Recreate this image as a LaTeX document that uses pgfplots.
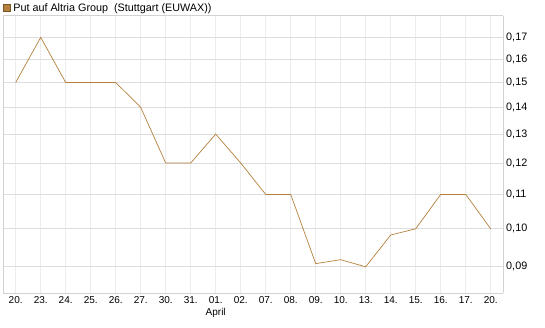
\documentclass[border=0pt]{standalone}
\usepackage{fontspec}
\setmainfont{Liberation Sans}
\usepackage{pgfplots}
\pgfplotsset{compat=1.18}
\definecolor{linec}{RGB}{180,128,60}
\definecolor{boxc}{RGB}{120,85,40}
\definecolor{gridh}{RGB}{221,221,221}
\definecolor{gridv}{RGB}{236,236,236}
\definecolor{axc}{RGB}{210,210,210}
\begin{document}
\fontsize{10}{12}\selectfont
\begin{tikzpicture}
\useasboundingbox (0pt,0pt) rectangle (545pt,327pt);
\begin{axis}[
  at={(3.2pt,34pt)}, anchor=south west,
  scale only axis, width=500pt, height=277.3pt,
  ymode=log,
  xmin=-0.5, xmax=19.5, ymin=0.0837, ymax=0.1805,
  axis y line*=right,
  axis x line*=bottom,
  axis line style={draw=axc},
  separate axis lines,
  ytick={0.09,0.10,0.11,0.12,0.13,0.14,0.15,0.16,0.17},
  yticklabels={{0,09},{0,10},{0,11},{0,12},{0,13},{0,14},{0,15},{0,16},{0,17}},
  minor ytick={},
  xtick={0,...,19},
  xticklabels={20.,23.,24.,25.,26.,27.,30.,31.,{01.\\April},02.,07.,08.,09.,10.,13.,14.,15.,16.,17.,20.},
  xticklabel style={align=center, anchor=north, font=\fontsize{10}{11.5}\selectfont},
  yticklabel style={font=\fontsize{10.8}{12}\selectfont, xshift=-0.5pt},
  major tick length=0pt,
  xmajorgrids, ymajorgrids,
  x grid style={draw=gridv, line width=0.8pt},
  y grid style={draw=gridh, line width=0.8pt},
  clip=false,
  legend style={at={(axis description cs:0,1)}, anchor=south west, draw=none, fill=none,
    inner sep=0pt, outer sep=0pt, yshift=2pt, font=\fontsize{10.8}{12}\selectfont,
    nodes={inner xsep=3pt, inner ysep=1pt},
    legend cell align=left},
  legend image code/.code={\draw[fill=linec, draw=boxc, line width=0.5pt] (0pt,-3.3pt) rectangle (6.6pt,3.3pt);},
]
\draw[draw=axc, line width=0.8pt] (rel axis cs:0,0) -- (rel axis cs:0,1) -- (rel axis cs:1,1);
\addplot[draw=linec, line width=0.7pt, mark=none] coordinates {
(0,0.150) (1,0.170) (2,0.150) (3,0.150) (4,0.150) (5,0.140) (6,0.120) (7,0.120)
(8,0.130) (9,0.120) (10,0.110) (11,0.110) (12,0.0908) (13,0.0918) (14,0.0900)
(15,0.0983) (16,0.100) (17,0.110) (18,0.110) (19,0.100)
};
\addlegendentry{Put auf Altria Group\ \ (Stuttgart (EUWAX))}
\end{axis}
\end{tikzpicture}
\end{document}
